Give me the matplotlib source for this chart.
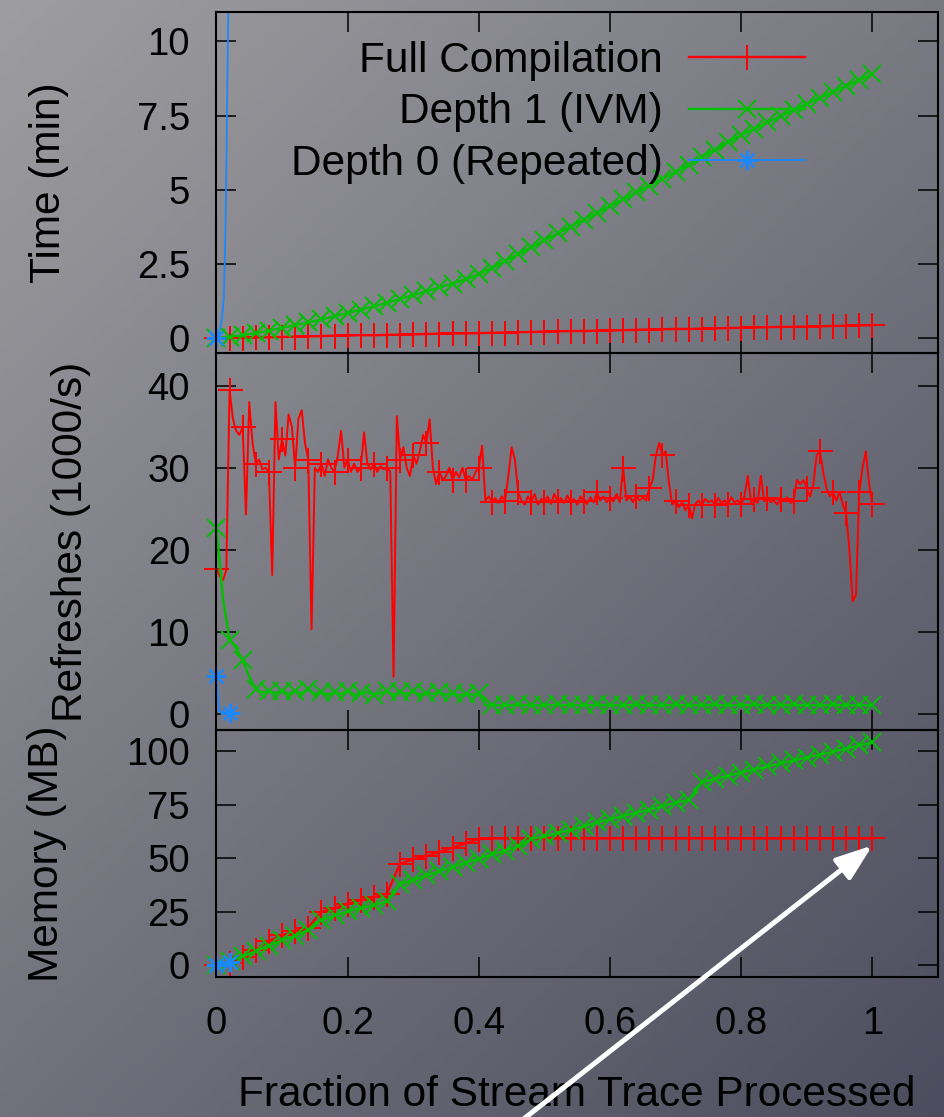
import numpy as np
import matplotlib.pyplot as plt

plt.rcParams['font.family'] = ['Liberation Sans', 'DejaVu Sans']

# sample positions (fraction of trace)
frac_coarse = np.round(np.arange(0, 1.0001, 0.02), 3)   # 51 points
frac_mid = np.round(np.arange(0, 1.0001, 0.01), 3)      # 101 points
frac_fine = np.round(np.arange(0, 1.0001, 0.005), 3)    # 201 points

# --- Time (min)
time_full = [0.00, 0.01, 0.02, 0.03, 0.03, 0.04, 0.05, 0.06, 0.07, 0.08,
             0.09, 0.10, 0.10, 0.11, 0.12, 0.13, 0.14, 0.15, 0.16, 0.16,
             0.17, 0.18, 0.19, 0.20, 0.21, 0.22, 0.23, 0.24, 0.24, 0.25,
             0.26, 0.27, 0.28, 0.29, 0.30, 0.31, 0.31, 0.32, 0.33, 0.34,
             0.35, 0.36, 0.37, 0.38, 0.38, 0.39, 0.40, 0.41, 0.42, 0.43,
             0.44]
time_ivm = [0.00, 0.05, 0.10, 0.17, 0.25, 0.35, 0.44, 0.53, 0.63, 0.74,
            0.85, 0.96, 1.07, 1.19, 1.32, 1.45, 1.58, 1.71, 1.84, 1.98,
            2.15, 2.37, 2.60, 2.83, 3.06, 3.30, 3.53, 3.76, 3.99, 4.22,
            4.45, 4.68, 4.91, 5.14, 5.37, 5.60, 5.85, 6.10, 6.35, 6.60,
            6.85, 7.06, 7.27, 7.48, 7.69, 7.90, 8.10, 8.30, 8.50, 8.70,
            8.90]
time_rep_x = [0.0, 0.004, 0.008, 0.011, 0.013, 0.0145, 0.016, 0.018]
time_rep = [0.0, 0.2, 0.6, 1.3, 2.8, 4.7, 7.5, 11.0]

# --- Refreshes (1000/s)
refresh_full = [17.7, 16.8, 16.3, 17.5, 39.5, 36.0, 34.5, 34.0, 35.0, 24.3,
                38.0, 33.0, 30.5, 31.0, 29.8, 30.0, 29.5, 16.9, 38.0, 31.0,
                33.5, 31.5, 36.5, 35.0, 30.0, 36.0, 37.0, 33.0, 31.0, 10.3,
                30.0, 29.5, 30.5, 29.0, 31.0, 30.0, 29.5, 31.5, 34.5, 30.0,
                31.0, 29.5, 30.5, 29.5, 30.0, 34.3, 30.5, 29.8, 30.5, 29.5,
                30.2, 29.8, 30.0, 29.5, 4.5, 36.3, 31.0, 32.5, 30.0, 29.0,
                31.5, 30.5, 32.0, 34.0, 33.0, 35.9, 30.0, 28.0, 29.5, 28.5,
                29.0, 30.0, 28.5, 29.5, 28.8, 30.0, 28.5, 29.0, 28.5, 29.5,
                30.0, 32.7, 26.0, 26.5, 25.8, 26.3, 25.7, 26.5, 26.0, 29.0,
                32.5, 31.0, 27.0, 26.0, 25.5, 26.5, 25.8, 26.8, 25.5, 26.2,
                25.8, 26.5, 25.6, 26.8, 25.9, 26.3, 25.7, 26.6, 25.8, 26.2,
                25.5, 26.5, 26.0, 25.6, 26.4, 25.8, 27.0, 26.0, 26.5, 25.8,
                26.3, 25.9, 26.8, 25.8, 30.0, 26.0, 26.5, 25.8, 26.6, 26.0,
                26.4, 26.0, 27.5, 28.5, 31.5, 33.0, 31.5, 32.0, 28.0, 25.5,
                26.0, 25.2, 25.8, 24.8, 25.5, 23.8, 25.6, 26.0, 25.4, 26.2,
                25.8, 26.0, 25.5, 26.3, 25.7, 26.0, 25.6, 26.4, 25.8, 26.0,
                25.6, 26.5, 29.0, 25.8, 26.2, 25.7, 29.0, 25.9, 26.3, 25.8,
                26.0, 25.5, 26.2, 25.9, 26.4, 25.7, 26.0, 28.5, 28.0, 28.5,
                27.5, 26.5, 28.0, 31.5, 32.0, 29.5, 27.5, 26.5, 27.0, 26.0,
                27.0, 25.5, 24.5, 20.0, 13.7, 14.5, 27.0, 30.0, 32.0, 28.0,
                25.6]
refresh_ivm = [22.7, 14.0, 9.0, 8.0, 6.5, 4.5, 3.0, 2.6, 2.7, 2.5,
               2.8, 2.4, 2.7, 2.5, 3.0, 2.4, 2.6, 2.3, 2.6, 2.4,
               2.8, 2.3, 2.5, 2.6, 2.3, 2.5, 2.7, 2.3, 2.6, 2.4,
               2.7, 2.3, 2.5, 2.4, 2.6, 2.3, 2.5, 2.2, 2.4, 2.3,
               2.5, 1.0, 1.1, 1.0, 1.1, 1.0, 1.2, 1.0, 1.1, 1.0,
               1.1, 1.0, 1.2, 1.0, 1.1, 1.0, 1.1, 1.0, 1.2, 1.0,
               1.1, 1.0, 1.1, 1.0, 1.2, 1.0, 1.1, 1.0, 1.1, 1.0,
               1.2, 1.0, 1.1, 1.0, 1.1, 1.0, 1.2, 1.0, 1.1, 1.0,
               1.1, 1.0, 1.2, 1.0, 1.1, 1.0, 1.1, 1.0, 1.2, 1.0,
               1.1, 1.0, 1.1, 1.0, 1.2, 1.0, 1.1, 1.0, 1.1, 1.0,
               1.1]
refresh_rep_x = [0.0, 0.004, 0.02]
refresh_rep = [4.6, 0.3, 0.1]

# --- Memory (MB)
mem_full = [0.0, 1.0, 4.0, 7.3, 11.5, 14.0, 15.8, 17.6, 25.0, 26.6,
            28.8, 30.4, 31.8, 33.5, 47.5, 49.5, 51.0, 53.0, 55.0, 57.0,
            59.0, 59.3, 59.3, 59.3, 59.3, 59.3, 59.3, 59.3, 59.3, 59.3,
            59.3, 59.3, 59.3, 59.3, 59.3, 59.3, 59.3, 59.3, 59.3, 59.3,
            59.3, 59.3, 59.3, 59.3, 59.3, 59.3, 59.3, 59.3, 59.3, 59.3,
            59.3]
mem_ivm = [0.0, 2.0, 4.2, 6.6, 9.2, 11.6, 13.8, 16.5, 21.0, 23.3,
           25.2, 26.7, 28.1, 29.9, 38.0, 39.8, 42.0, 43.9, 45.9, 48.0,
           49.8, 51.8, 53.6, 55.6, 59.0, 60.3, 61.8, 63.3, 64.9, 66.8,
           68.3, 69.8, 71.3, 72.7, 74.3, 76.0, 77.3, 85.5, 87.2, 88.6,
           90.1, 91.5, 93.0, 94.4, 95.8, 97.1, 98.5, 99.8, 101.3, 102.8,
           104.2]
mem_rep_x = [0.0, 0.02]
mem_rep = [0.0, 1.5]

x_ticks = [0, 0.2, 0.4, 0.6, 0.8, 1.0]
x_ticklabels = ['0', '0.2', '0.4', '0.6', '0.8', '1']

RED = '#ff0000'
GREEN = '#00c000'
BLUE = '#1a88ff'
ASTER = (8, 2, 0)

fig = plt.figure(figsize=(9.44, 11.17), dpi=100)

# grey gradient backdrop
bg = fig.add_axes([0, 0, 1, 1], zorder=-10)
gx, gy = np.meshgrid(np.linspace(0, 1, 300), np.linspace(0, 1, 300))
t = (0.45 * gx + 0.55 * gy)[..., None]
c0 = np.array([0.62, 0.62, 0.63])
c1 = np.array([0.30, 0.30, 0.37])
bg.imshow(c0 * (1 - t) + c1 * t, extent=[0, 1, 0, 1], aspect='auto')
bg.axis('off')

left, width = 0.2293, 0.7643
ax1 = fig.add_axes([left, 0.68398, width, 0.98953 - 0.68398])
ax2 = fig.add_axes([left, 0.34646, width, 0.68398 - 0.34646])
ax3 = fig.add_axes([left, 0.12534, width, 0.34646 - 0.12534])

lw = 1.7
mew = 1.4
ms_plus = 18
ms_x = 13

ax1.plot(frac_coarse, time_full, color=RED, lw=lw, marker='+', ms=ms_plus, mew=mew,
         label='Full Compilation', clip_on=False)
ax1.plot(frac_coarse, time_ivm, color=GREEN, lw=lw, marker='x', ms=ms_x, mew=mew,
         label='Depth 1 (IVM)', clip_on=False)
ax1.plot(time_rep_x, time_rep, color=BLUE, lw=1.3, marker=ASTER, ms=14, mew=mew,
         markevery=[0], label='Depth 0 (Repeated)', clip_on=False)

ax2.plot(frac_fine, refresh_full, color=RED, lw=1.4, marker='+', ms=ms_plus, mew=mew,
         markevery=4, clip_on=False)
ax2.plot(frac_mid, refresh_ivm, color=GREEN, lw=lw, marker='x', ms=ms_x, mew=mew,
         markevery=2, clip_on=False)
ax2.plot(refresh_rep_x, refresh_rep, color=BLUE, lw=1.3, marker=ASTER, ms=14, mew=mew,
         markevery=[0, 2], clip_on=False)

ax3.plot(frac_coarse, mem_full, color=RED, lw=lw, marker='+', ms=ms_plus, mew=mew, clip_on=False)
ax3.plot(frac_coarse, mem_ivm, color=GREEN, lw=lw, marker='x', ms=ms_x, mew=mew, clip_on=False)
ax3.plot(mem_rep_x, mem_rep, color=BLUE, lw=1.3, marker=ASTER, ms=14, mew=mew, clip_on=False)

ax1.set_ylim(-0.5, 11)
ax1.set_yticks([0, 2.5, 5, 7.5, 10])
ax1.set_yticklabels(['0', '2.5', '5', '7.5', '10'])
ax2.set_ylim(-2, 44)
ax2.set_yticks([0, 10, 20, 30, 40])
ax3.set_ylim(-5.5, 110)
ax3.set_yticks([0, 25, 50, 75, 100])

for ax in (ax1, ax2, ax3):
    ax.set_facecolor('none')
    ax.set_xlim(0, 1.1)
    ax.set_xticks(x_ticks)
    ax.set_xticklabels(x_ticklabels)
    ax.tick_params(direction='in', length=14.5, width=1.1, top=True, right=True,
                   labelsize=27.5, colors='black')
    ax.tick_params(axis='y', pad=19)
    ax.tick_params(axis='x', pad=21)
    for s in ax.spines.values():
        s.set_linewidth(1.5)
        s.set_color('black')
for ax in (ax1, ax2):
    ax.tick_params(labelbottom=False)

ax3.set_xlabel('Fraction of Stream Trace Processed', fontsize=30.5, labelpad=24)

ax1.set_ylabel('Time (min)', fontsize=30.5)
ax2.set_ylabel('Refreshes (1000/s)', fontsize=30.5)
ax3.set_ylabel('Memory (MB)', fontsize=30.5)
ax1.yaxis.set_label_coords(-0.2044, 0.5)
ax2.yaxis.set_label_coords(-0.1740, 0.5)
ax3.yaxis.set_label_coords(-0.2065, 0.5)

ax1.legend(loc='upper right', bbox_to_anchor=(805 / 944, 1 - 41 / 1117),
           bbox_transform=fig.transFigure, frameon=False, markerfirst=False,
           handlelength=2.74, handletextpad=0.61, labelspacing=0.27,
           borderpad=0, borderaxespad=0, fontsize=30.5, numpoints=1)

ax3.annotate('', xy=(1.0, 56), xycoords='data',
             xytext=(519 / 944, -0.005), textcoords='figure fraction',
             arrowprops=dict(arrowstyle='-|>,head_length=0.55,head_width=0.2',
                             color='white', lw=3.6, mutation_scale=40,
                             shrinkA=0, shrinkB=0),
             annotation_clip=False)

fig.savefig('out.png', dpi=100)
